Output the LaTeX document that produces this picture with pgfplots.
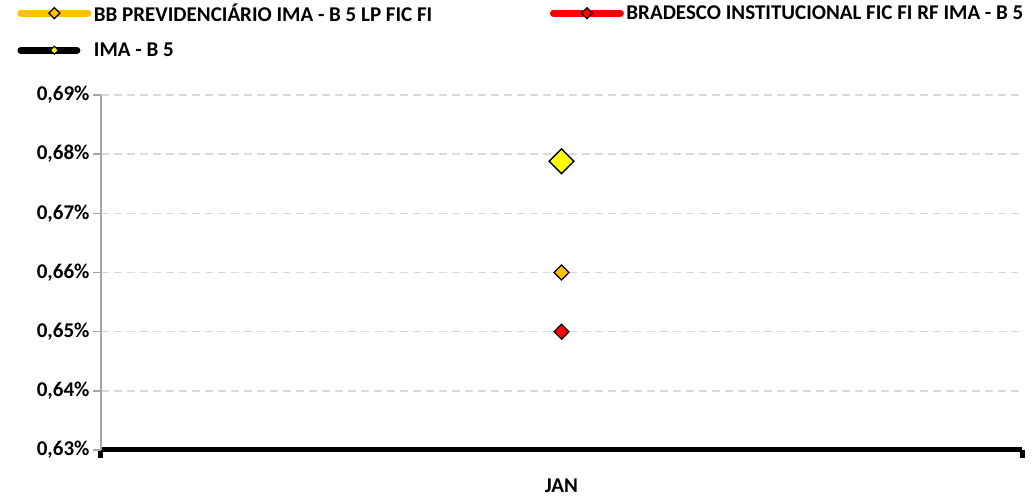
\documentclass[border=0pt]{standalone}
\usepackage{pgfplots}
\pgfplotsset{compat=1.18}
\usepackage{fontspec}
\setmainfont{Carlito}
\definecolor{bbor}{HTML}{FFC000}
\definecolor{brred}{HTML}{FF0000}
\definecolor{imay}{HTML}{FFFF00}
\definecolor{gridc}{HTML}{D9D9D9}
\definecolor{axc}{HTML}{A6A6A6}
\begin{document}
\begin{tikzpicture}[font=\fontsize{21bp}{25bp}\selectfont\bfseries]
\begin{axis}[
  name=ax,
  scale only axis,
  width=921bp, height=355bp,
  xmin=-0.5, xmax=0.5,
  ymin=0.63, ymax=0.69,
  axis lines*=left,
  x axis line style={black, line width=5bp},
  y axis line style={axc, line width=1.5bp},
  tick align=outside,
  major tick length=8bp,
  ytick={0.63,0.64,0.65,0.66,0.67,0.68,0.69},
  yticklabels={{0,63\%},{0,64\%},{0,65\%},{0,66\%},{0,67\%},{0,68\%},{0,69\%}},
  ytick style={axc, line width=1.5bp},
  ymajorgrids,
  grid style={gridc, line width=1.5bp, dash pattern=on 8bp off 5bp},
  xtick={-0.5,0.5},
  xticklabels={,},
  xtick style={draw=black, line width=5bp},
  extra x ticks={0},
  extra x tick labels={JAN},
  extra x tick style={major tick length=0pt, grid=none},
  xticklabel style={yshift=-25bp},
  ticklabel style={font=\fontsize{21bp}{25bp}\selectfont\bfseries},
  /pgf/number format/assume math mode=true,
  legend columns=2,
  legend style={at={(-0.0912,1.265)}, anchor=north west, draw=none, fill=none,
    inner sep=0pt, row sep=15bp, cells={anchor=west},
    nodes={inner sep=2.5bp},
    /tikz/every even column/.append style={column sep=115bp},
    font=\fontsize{21bp}{25bp}\selectfont\bfseries},
]
\addplot[only marks, mark=square*, mark size=5.3bp,
  mark options={fill=bbor, draw=black, line width=1.2bp, rotate=45},
  legend image code/.code={
    \path (0bp,0bp);
    \draw[bbor, line width=7bp, line cap=round] (3.5bp,0bp)--(70.5bp,0bp);
    \draw[black, fill=bbor, line width=1.2bp] (37bp,5.5bp)--(42.5bp,0bp)--(37bp,-5.5bp)--(31.5bp,0bp)--cycle;
  }] coordinates {(0,0.660)};
\addlegendentry{BB PREVIDENCIÁRIO IMA - B 5 LP FIC FI}
\addplot[only marks, mark=square*, mark size=5.3bp,
  mark options={fill=brred, draw=black, line width=1.2bp, rotate=45},
  legend image code/.code={
    \path (0bp,0bp);
    \draw[brred, line width=7bp, line cap=round] (3.5bp,0bp)--(70.5bp,0bp);
    \draw[black, fill=brred, line width=1.2bp] (37bp,5.5bp)--(42.5bp,0bp)--(37bp,-5.5bp)--(31.5bp,0bp)--cycle;
  }] coordinates {(0,0.650)};
\addlegendentry{BRADESCO INSTITUCIONAL FIC FI RF IMA - B 5}
\addplot[only marks, mark=square*, mark size=8.8bp,
  mark options={fill=imay, draw=black, line width=1.4bp, rotate=45},
  legend image code/.code={
    \path (0bp,0bp) (70.5bp,0bp);
    \draw[black, line width=7bp, line cap=round] (3.5bp,0bp)--(59.5bp,0bp);
    \draw[black, fill=imay, line width=1bp] (37bp,4bp)--(41bp,0bp)--(37bp,-4bp)--(33bp,0bp)--cycle;
  }] coordinates {(0,0.6788)};
\addlegendentry{IMA - B 5}
\end{axis}
\pgfresetboundingbox
\path[use as bounding box] ([xshift=-101bp,yshift=-48bp]ax.south west) rectangle ([xshift=12bp,yshift=95bp]ax.north east);
\end{tikzpicture}
\end{document}
